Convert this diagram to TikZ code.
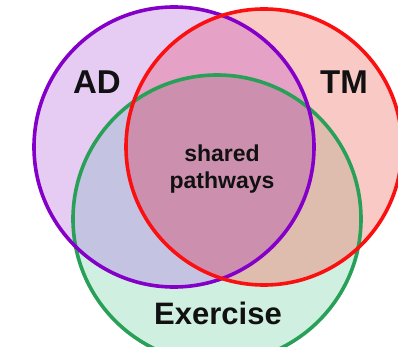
\documentclass[tikz,border=0pt]{standalone}
\usepackage{fontspec}
\setmainfont{Liberation Sans}
\definecolor{adfill}{RGB}{230,204,242}
\definecolor{tmfill}{RGB}{249,201,198}
\definecolor{exfill}{RGB}{207,240,224}
\definecolor{adtm}{RGB}{230,162,198}
\definecolor{adex}{RGB}{196,196,226}
\definecolor{tmex}{RGB}{222,188,174}
\definecolor{alll}{RGB}{204,144,174}
\definecolor{adline}{RGB}{132,0,200}
\definecolor{tmline}{RGB}{250,16,16}
\definecolor{exline}{RGB}{40,160,88}
\definecolor{txt}{RGB}{17,17,17}
\tikzset{
  ring/.style={line width=3.6pt},
  biglabel/.style={font=\fontsize{33}{33}\selectfont\bfseries, text=txt, inner sep=0pt},
  midlabel/.style={font=\fontsize{31}{31}\selectfont\bfseries, text=txt, inner sep=0pt},
  smalllabel/.style={font=\fontsize{23}{27}\selectfont\bfseries, text=txt, align=center, inner sep=0pt},
}
\begin{document}
\begin{tikzpicture}[x=1pt,y=-1pt]
\useasboundingbox (0,0) rectangle (398,347);
\fill[white] (0,0) rectangle (398,347);
\clip (0,0) rectangle (398,347);
\coordinate (cad) at (174,147);
\coordinate (ctm) at (264,147);
\coordinate (cex) at (217,219);
\def\cAD{(cad) circle[radius=140]}
\def\cTM{(ctm) circle[radius=138]}
\def\cEX{(cex) circle[radius=144]}
\fill[adfill] \cAD;
\fill[tmfill] \cTM;
\fill[exfill] \cEX;
\begin{scope}\clip \cAD; \fill[adtm] \cTM; \end{scope}
\begin{scope}\clip \cAD; \fill[adex] \cEX; \end{scope}
\begin{scope}\clip \cTM; \fill[tmex] \cEX; \end{scope}
\begin{scope}\clip \cAD; \clip \cTM; \fill[alll] \cEX; \end{scope}
\draw[ring, exline] \cEX;
\draw[ring, adline] \cAD;
\draw[ring, tmline] \cTM;
\node[biglabel] (ad) at (97,82) {AD};
\node[biglabel] (tm) at (344,82) {TM};
\node[midlabel] (ex) at (218,313) {Exercise};
\node[smalllabel] (sp) at (222,169) {shared\\pathways};
\end{tikzpicture}
\end{document}
